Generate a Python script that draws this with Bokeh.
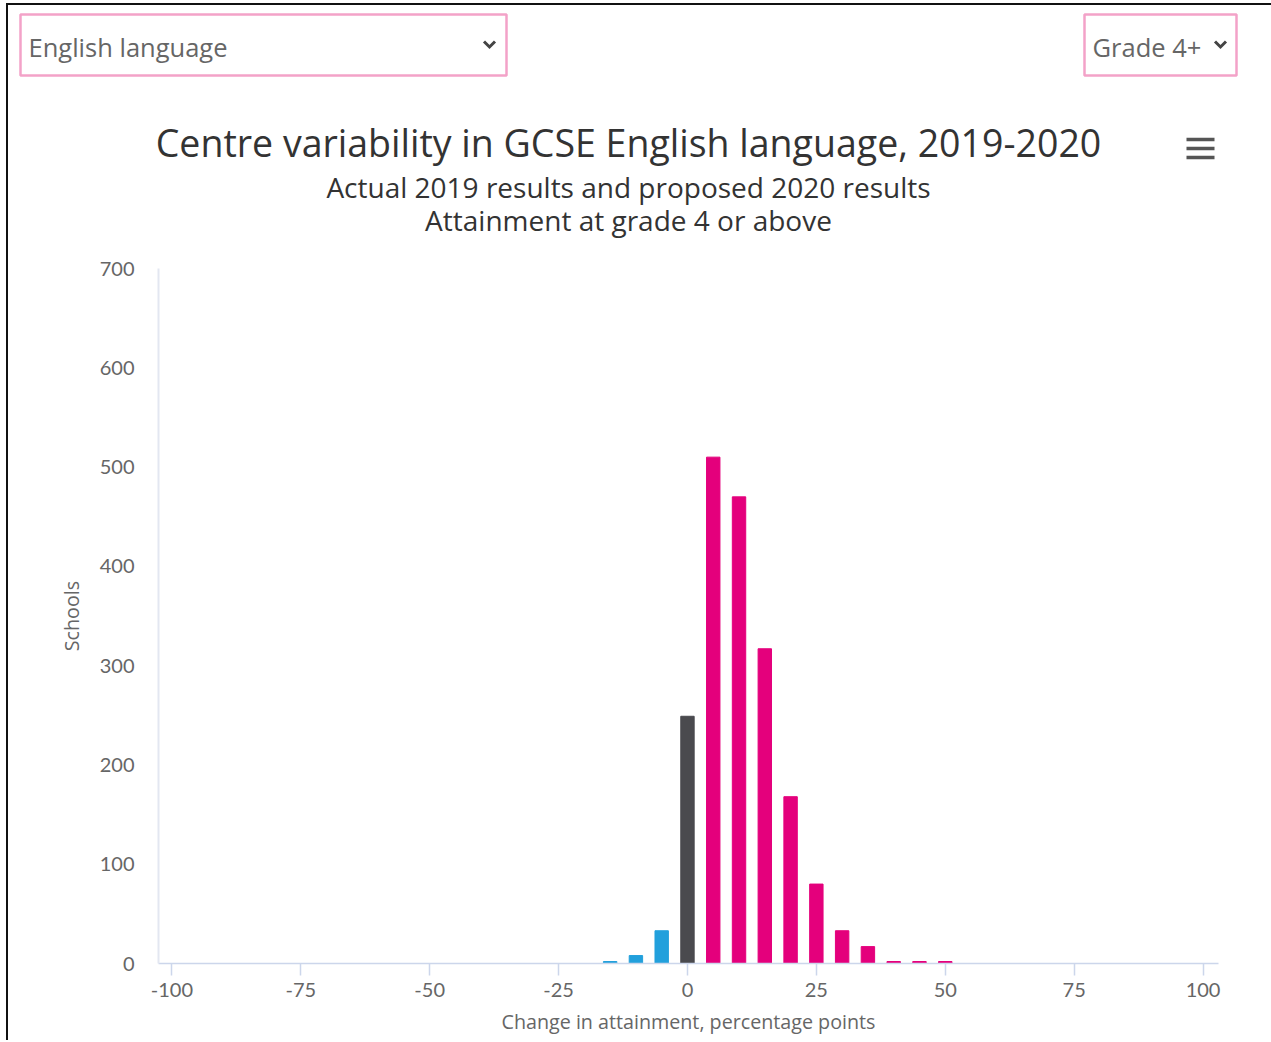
from bokeh.plotting import figure
from bokeh.layouts import column
from bokeh.models import Label, FixedTicker, ColumnDataSource, Range1d
from bokeh.embed import file_html
from bokeh.resources import INLINE

# ---- data ----
change_pp = [-15, -10, -5, 0, 5, 10, 15, 20, 25, 30, 35, 40, 45, 50]
schools = [2, 8, 33, 249, 510, 470, 317, 168, 80, 33, 17, 2, 2, 2]
x_ticks = [-100, -75, -50, -25, 0, 25, 50, 75, 100]
y_ticks = [0, 100, 200, 300, 400, 500, 600, 700]

title_text = "Centre variability in GCSE English language, 2019-2020"
subtitle_1 = "Actual 2019 results and proposed 2020 results"
subtitle_2 = "Attainment at grade 4 or above"
subject_choice = "English language"
grade_choice = "Grade 4+"

BLUE = "#22a0dc"
DARK = "#4a4a4e"
PINK = "#e4007c"
FONT = "Lato"
WIDE = "Open Sans"

# ================= header (title, dropdowns, menu) =================
# its ranges map 1:1 onto page pixels (y grows downwards)
hdr = figure(width=1263, height=245, x_range=Range1d(8, 1271),
             y_range=Range1d(250, 5), output_backend="svg",
             toolbar_location=None, x_axis_location=None,
             y_axis_location=None, min_border=0)
hdr.outline_line_color = None
hdr.grid.grid_line_color = None
hdr.background_fill_color = "white"
hdr.border_fill_color = "white"


def dropdown(left, right, text, chevron_x):
    hdr.quad(left=[left], right=[right], top=[14], bottom=[75],
             fill_alpha=0, line_color="#f3a2c8", line_width=2.5)
    hdr.add_layout(Label(x=left + 8, y=46, text=text, text_font=WIDE,
                         text_font_size="25.5px", text_color="#666666",
                         text_align="left", text_baseline="middle"))
    cx, cy = chevron_x, 44
    hdr.line([cx - 5.5, cx, cx + 5.5], [cy - 3, cy + 2.5, cy - 3],
             line_width=3, line_color="#444444", line_join="miter")


dropdown(20, 506, subject_choice, 489)
dropdown(1084, 1236, grade_choice, 1220)

hdr.add_layout(Label(x=628, y=142, text=title_text, text_font=WIDE,
                     text_font_size="37.5px", text_color="#333333",
                     text_align="center", text_baseline="middle"))
hdr.add_layout(Label(x=628, y=186, text=subtitle_1, text_font=WIDE,
                     text_font_size="28px", text_color="#333333",
                     text_align="center", text_baseline="middle"))
hdr.add_layout(Label(x=628, y=219, text=subtitle_2, text_font=WIDE,
                     text_font_size="28px", text_color="#333333",
                     text_align="center", text_baseline="middle"))

# hamburger menu icon
hdr.quad(left=[1186] * 3, right=[1214] * 3,
         top=[137.3, 146.3, 155.3], bottom=[140.7, 149.7, 158.7],
         fill_color="#555555", line_color=None)

# ================= chart =================
colors = [BLUE if c < 0 else (DARK if c == 0 else PINK) for c in change_pp]
src = ColumnDataSource(dict(x=change_pp, top=schools, color=colors))

p = figure(width=1263, height=790,
           x_range=Range1d(-102.6, 103.0), y_range=Range1d(0, 700),
           output_backend="svg", toolbar_location=None,
           min_border_left=150, min_border_right=53,
           min_border_top=18, min_border_bottom=77)
p.outline_line_color = None
p.background_fill_color = "white"
p.border_fill_color = "white"
p.xgrid.grid_line_color = None
p.ygrid.grid_line_color = None

p.vbar(x="x", top="top", width=2.6, color="color", source=src)

xa = p.xaxis[0]
xa.ticker = FixedTicker(ticks=x_ticks)
xa.major_label_overrides = {t: str(t) for t in x_ticks}
xa.axis_line_color = "#ccd6eb"
xa.axis_line_width = 1.5
xa.major_tick_line_color = "#ccd6eb"
xa.major_tick_line_width = 1.5
xa.major_tick_out = 12
xa.major_tick_in = 0
xa.minor_tick_line_color = None
xa.major_label_standoff = 7
xa.major_label_text_font = FONT
xa.major_label_text_font_size = "20px"
xa.major_label_text_color = "#666666"
xa.axis_label = "Change in attainment, percentage points"
xa.axis_label_text_font = WIDE
xa.axis_label_text_font_size = "19.7px"
xa.axis_label_text_font_style = "normal"
xa.axis_label_text_color = "#666666"
xa.axis_label_standoff = 8

ya = p.yaxis[0]
ya.ticker = FixedTicker(ticks=y_ticks)
ya.axis_line_color = "#e3e7f1"
ya.axis_line_width = 2
ya.major_tick_line_color = None
ya.major_tick_out = 0
ya.major_tick_in = 0
ya.minor_tick_line_color = None
ya.major_label_standoff = 24
ya.major_label_text_font = FONT
ya.major_label_text_font_size = "20px"
ya.major_label_text_color = "#666666"
ya.axis_label = "Schools"
ya.axis_label_text_font = WIDE
ya.axis_label_text_font_size = "19.7px"
ya.axis_label_text_font_style = "normal"
ya.axis_label_text_color = "#666666"
ya.axis_label_standoff = 12

# the header must not be frame-aligned with the chart below it
for fig in (hdr, p):
    if "frame_align" in fig.properties():
        fig.frame_align = False

page = column(hdr, p, spacing=0,
              styles={"margin-left": "6px", "margin-top": "3px",
                      "border-left": "2px solid #111111",
                      "border-top": "2px solid #111111"})

open("out.html", "w").write(file_html(page, INLINE))
